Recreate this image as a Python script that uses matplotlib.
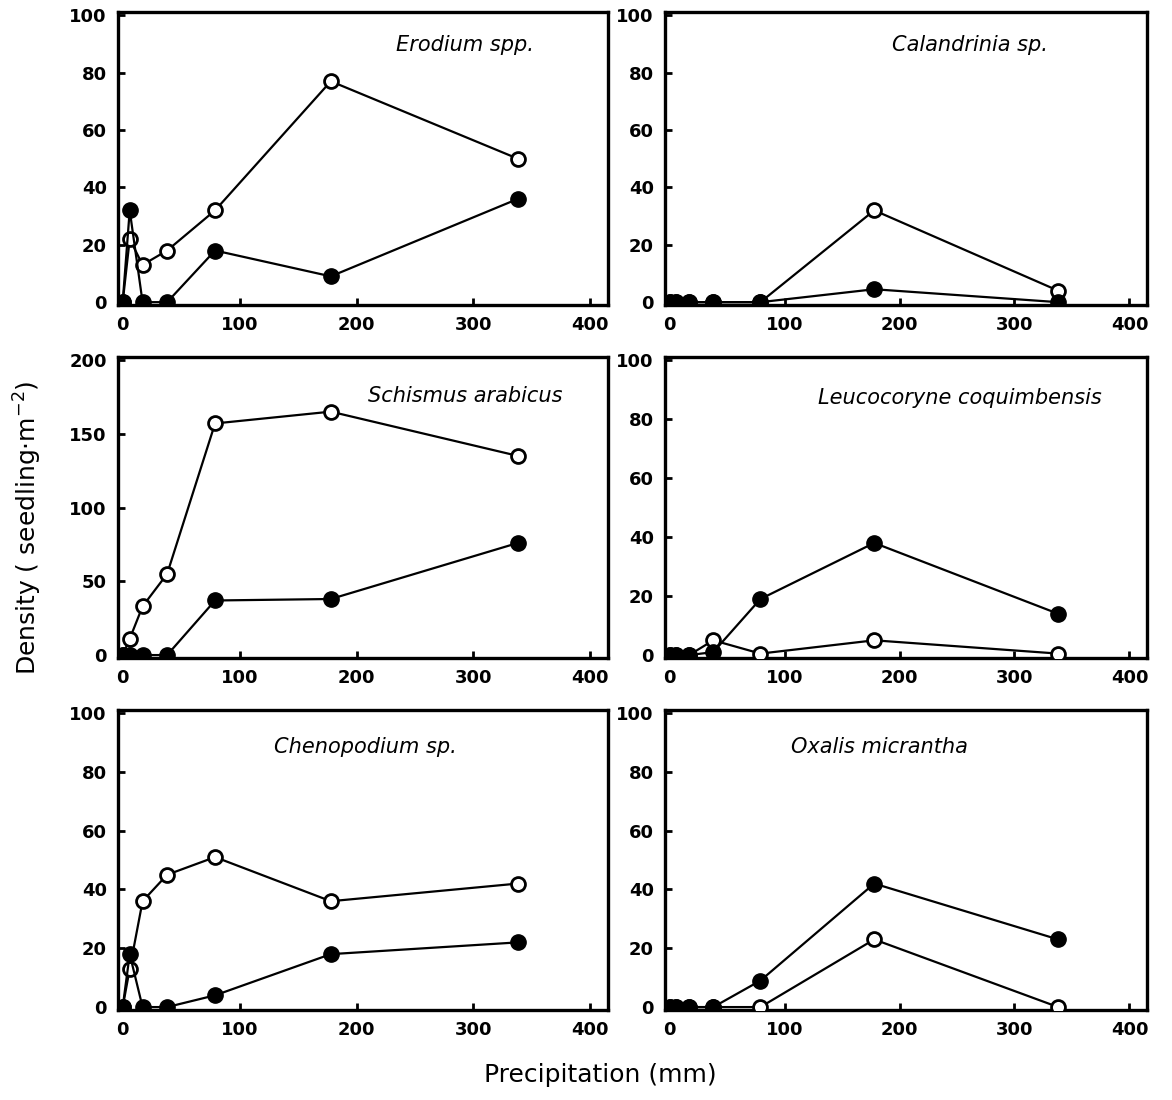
import numpy as np
import matplotlib.pyplot as plt

# precipitation levels (mm)
precip = [0, 6, 17, 38, 79, 178, 338]

# density (seedling m-2): open circles / filled circles
erodium_open = [0, 22, 13, 18, 32, 77, 50]
erodium_fill = [0, 32, 0, 0, 18, 9, 36]
calandrinia_open = [0, 0, 0, 0, 0, 32, 4]
calandrinia_fill = [0, 0, 0, 0, 0, 4.5, 0]
schismus_open = [0, 11, 33, 55, 157, 165, 135]
schismus_fill = [0, 0, 0, 0, 37, 38, 76]
leuco_open = [0, 0, 0, 5, 0.5, 5, 0.5]
leuco_fill = [0, 0, 0, 1, 19, 38, 14]
cheno_open = [0, 13, 36, 45, 51, 36, 42]
cheno_fill = [0, 18, 0, 0, 4, 18, 22]
oxalis_open = [0, 0, 0, 0, 0, 23, 0]
oxalis_fill = [0, 0, 0, 0, 9, 42, 23]

titles = ["Erodium spp.", "Calandrinia sp.", "Schismus arabicus",
          "Leucocoryne coquimbensis", "Chenopodium sp.", "Oxalis micrantha"]
opens = [erodium_open, calandrinia_open, schismus_open, leuco_open, cheno_open, oxalis_open]
fills = [erodium_fill, calandrinia_fill, schismus_fill, leuco_fill, cheno_fill, oxalis_fill]
ymax = [100, 100, 200, 100, 100, 100]

# panel rectangles (figure fraction)
lefts = [0.1007, 0.5674]
widths = [0.418, 0.411]
rows = [(0.7227, 0.266), (0.4018, 0.2736), (0.0818, 0.2727)]
title_pos = [(0.708, 0.887), (0.633, 0.887), (0.708, 0.87),
             (0.612, 0.864), (0.504, 0.877), (0.446, 0.877)]

fig = plt.figure(figsize=(11.72, 11), dpi=100)

for i in range(6):
    r, c = divmod(i, 2)
    ax = fig.add_axes([lefts[c], rows[r][0], widths[c], rows[r][1]])
    # open first, filled drawn on top (hides open ones at zero)
    ax.plot(precip, opens[i], '-o', color='black', mfc='white', mec='black',
            mew=2, ms=10, lw=1.6, zorder=3)
    ax.plot(precip, fills[i], '-o', color='black', mfc='black', mec='black',
            ms=11, lw=1.6, zorder=4)
    ax.set_xlim(-4, 415)
    top = ymax[i]
    ax.set_ylim(-0.01 * top, top * 1.01)
    ax.set_xticks([0, 100, 200, 300, 400])
    if top == 200:
        ax.set_yticks([0, 50, 100, 150, 200])
    else:
        ax.set_yticks([0, 20, 40, 60, 80, 100])
    ax.tick_params(direction='in', length=5, width=2, top=False, right=False,
                   labelsize=13, pad=8)
    for lab in ax.get_xticklabels() + ax.get_yticklabels():
        lab.set_fontweight('bold')
    for sp in ax.spines.values():
        sp.set_linewidth(2.4)
    ax.text(title_pos[i][0], title_pos[i][1], titles[i], transform=ax.transAxes,
            ha='center', va='center', fontsize=15, style='italic')

fig.text(0.024, 0.52, r"Density ( seedling$\cdot$m$^{-2}$)", rotation=90,
         ha='center', va='center', fontsize=18)
fig.text(0.512, 0.023, "Precipitation (mm)", ha='center', va='center', fontsize=18)

fig.savefig("out.png", dpi=100)
